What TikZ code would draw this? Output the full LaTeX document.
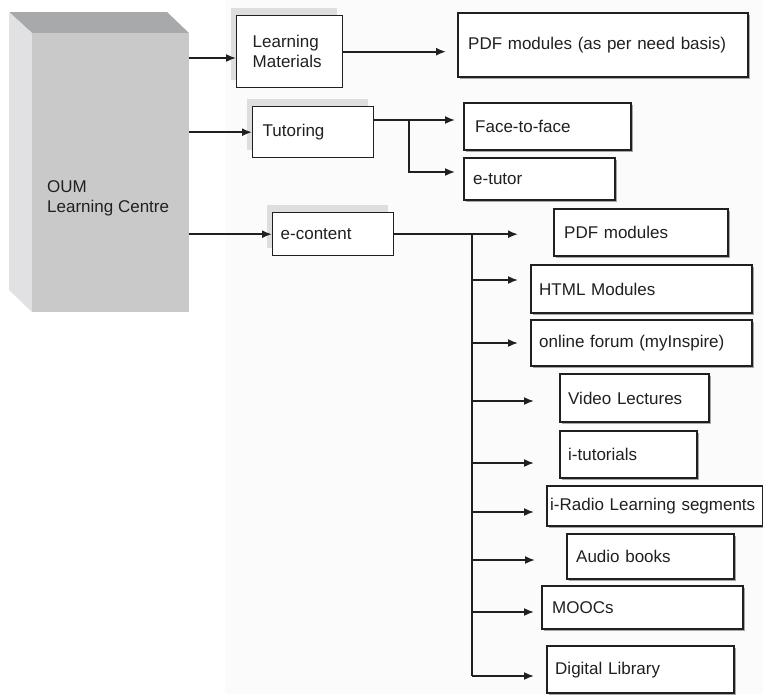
\documentclass[tikz,border=0pt]{standalone}
\usepackage{fontspec}
\setmainfont{Liberation Sans}
\usetikzlibrary{arrows.meta,shadows}
\definecolor{linec}{HTML}{231F20}
\definecolor{frontc}{HTML}{C9C9CA}
\definecolor{topc}{HTML}{A8A9AB}
\definecolor{sidec}{HTML}{E1E1E3}
\definecolor{bgc}{HTML}{FBFBFB}
\tikzset{
  lbox/.style={draw=linec, line width=1.4pt, fill=white,
    general shadow={fill=black!13, shadow xshift=-6pt, shadow yshift=8pt}},
  rbox/.style={draw=linec, line width=2.4pt, fill=white,
    general shadow={fill=black!35, shadow xshift=2pt, shadow yshift=-2pt}},
  ln/.style={draw=linec, line width=1.7pt},
  arr/.style={draw=linec, line width=1.7pt, -{Latex[length=10pt,width=8pt]}},
}
\newcommand\mybox[8]{%
  \pgfmathsetmacro\bxw{#5-#3}%
  \pgfmathsetmacro\bxh{#6-#4}%
  \pgfmathsetmacro\bxt{#5-#3-2*#7}%
  \node[#2, anchor=north west, minimum width=\bxw pt, minimum height=\bxh pt,
        text width=\bxt pt, inner xsep=#7pt, inner ysep=0pt, align=left]
        (#1) at (#3,#4) {#8};}
\begin{document}
\begin{tikzpicture}[x=1pt,y=-1pt, every node/.style={font=\fontsize{17}{20}\selectfont, text=linec}]
\useasboundingbox (0,0) rectangle (763,694);
\fill[white] (0,0) rectangle (763,694);
\fill[bgc] (225,0) rectangle (763,694);

% OUM 3D block
\fill[topc] (9,12) -- (167,12) -- (189,33) -- (32,33) -- cycle;
\fill[sidec] (9,12) -- (32,33) -- (32,312) -- (9,290) -- cycle;
\node[fill=frontc, anchor=north west, minimum width=157pt, minimum height=279pt, inner sep=0pt] (oum) at (32,33) {};
\node[anchor=west, align=left, inner sep=0pt] (oumtxt) at (47,198) {OUM\\Learning Centre};

% first-level boxes
\mybox{lm}{lbox}{236}{15}{342}{87}{16}{Learning\\Materials}
\mybox{tut}{lbox}{252}{106}{373}{157}{10}{Tutoring}
\mybox{econ}{lbox}{272}{212}{393}{255}{8}{e-content}

% second-level boxes
\mybox{pdfn}{rbox}{457}{12}{747}{76}{10}{PDF modules (as per need basis)}
\mybox{face}{rbox}{463}{102}{630}{149}{11}{Face-to-face}
\mybox{etut}{rbox}{463}{157}{614}{199}{9}{e-tutor}
\mybox{pdfm}{rbox}{553}{208}{727}{255}{10}{PDF modules}
\mybox{html}{rbox}{530}{264}{751}{312}{8}{HTML Modules}
\mybox{forum}{rbox}{530}{319}{751}{365}{8}{online forum (myInspire)}
\mybox{video}{rbox}{559}{373}{708}{421}{8}{Video Lectures}
\mybox{itut}{rbox}{559}{430}{696}{477}{8}{i-tutorials}
\mybox{radio}{rbox}{546}{485}{762}{525}{3}{i-Radio Learning segments}
\mybox{audio}{rbox}{566}{533}{733}{578}{9}{Audio books}
\mybox{moocs}{rbox}{541}{585}{742}{628}{10}{MOOCs}
\mybox{dl}{rbox}{546}{645}{733}{692}{8}{Digital Library}

% helper levels
\coordinate (ya) at (0,58);
\coordinate (tb) at (409,120);
\coordinate (tb2) at (409,172);
\coordinate (eb) at (472,233);
\coordinate (yhtml) at (0,280);
\coordinate (yforum) at (0,343);
\coordinate (yvideo) at (0,401);
\coordinate (yitut) at (0,463);
\coordinate (yradio) at (0,512);
\coordinate (yaudio) at (0,560);
\coordinate (ymoocs) at (0,612);
\coordinate (ydl) at (0,676);

% connectors from OUM
\draw[arr] (oum.east |- ya) -- (lm.west |- ya);
\draw[arr] (oum.east |- tut.west) -- (tut.west);
\draw[arr] (oum.east |- econ.west) -- (econ.west);

% learning materials
\draw[arr, shorten >=11pt] (lm.east) -- (pdfn.west |- lm.east);

% tutoring
\draw[arr, shorten >=8pt] (tut.east |- tb) -- (face.west |- tb);
\draw[arr, shorten >=8pt] (tb) -- (tb2) -- (etut.west |- tb2);

% e-content
\draw[arr, shorten >=35pt] (econ.east) -- (pdfm.west |- econ.east);
\draw[ln] (eb) -- (eb |- ydl);
\draw[arr, shorten >=12pt] (eb |- yhtml) -- (html.west |- yhtml);
\draw[arr, shorten >=12pt] (eb |- yforum) -- (forum.west |- yforum);
\draw[arr, shorten >=25pt] (eb |- yvideo) -- (video.west |- yvideo);
\draw[arr, shorten >=25pt] (eb |- yitut) -- (itut.west |- yitut);
\draw[arr, shorten >=12pt] (eb |- yradio) -- (radio.west |- yradio);
\draw[arr, shorten >=31pt] (eb |- yaudio) -- (audio.west |- yaudio);
\draw[arr, shorten >=7pt] (eb |- ymoocs) -- (moocs.west |- ymoocs);
\draw[arr, shorten >=12pt] (eb |- ydl) -- (dl.west |- ydl);
\end{tikzpicture}
\end{document}
